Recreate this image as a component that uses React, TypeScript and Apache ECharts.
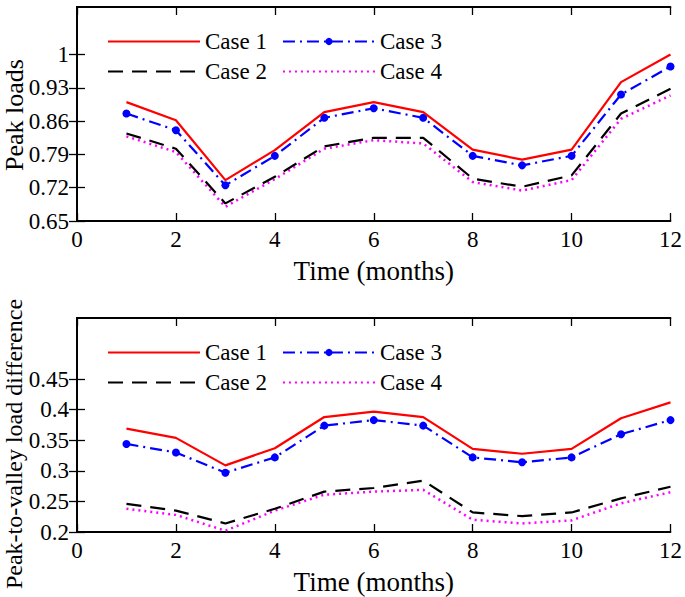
import React, { useEffect, useRef } from "react";
import * as echarts from "echarts";

const months = [1, 2, 3, 4, 5, 6, 7, 8, 9, 10, 11, 12];

// Peak loads
const peakCase1 = [0.9, 0.862, 0.736, 0.799, 0.879, 0.9, 0.879, 0.8, 0.779, 0.8, 0.942, 1.0];
const peakCase2 = [0.834, 0.802, 0.687, 0.743, 0.807, 0.825, 0.825, 0.739, 0.722, 0.746, 0.876, 0.928];
const peakCase3 = [0.876, 0.841, 0.725, 0.787, 0.867, 0.887, 0.867, 0.787, 0.767, 0.787, 0.916, 0.975];
const peakCase4 = [0.828, 0.795, 0.68, 0.738, 0.802, 0.82, 0.813, 0.732, 0.714, 0.736, 0.865, 0.914];

// Peak-to-valley load difference
const pvCase1 = [0.369, 0.354, 0.309, 0.337, 0.388, 0.397, 0.388, 0.336, 0.328, 0.336, 0.386, 0.412];
const pvCase2 = [0.246, 0.235, 0.214, 0.238, 0.266, 0.272, 0.284, 0.232, 0.226, 0.232, 0.255, 0.274];
const pvCase3 = [0.344, 0.33, 0.297, 0.322, 0.374, 0.383, 0.374, 0.322, 0.314, 0.322, 0.36, 0.383];
const pvCase4 = [0.238, 0.228, 0.202, 0.235, 0.261, 0.266, 0.269, 0.22, 0.214, 0.219, 0.247, 0.265];

const xTicks = [0, 2, 4, 6, 8, 10, 12];
const peakTicks = [0.65, 0.72, 0.79, 0.86, 0.93, 1];
const pvTicks = [0.2, 0.25, 0.3, 0.35, 0.4, 0.45];

const FONT = "'Liberation Serif', 'Times New Roman', serif";

export default function App() {
  const ref = useRef<HTMLDivElement>(null);
  useEffect(() => {
    if (!ref.current) return;
    const chart = echarts.init(ref.current, undefined, { renderer: "svg" });
    const pair = (arr: number[]) => months.map((m, i) => [m, arr[i]]);
    const fmt = (v: number) => String(Math.round(v * 100) / 100);

    const styles = [
      { name: "Case 1", color: "#ff0000", type: "solid" as any, width: 2.2, marker: false },
      { name: "Case 2", color: "#000000", type: [15, 9] as any, width: 2.2, marker: false },
      { name: "Case 3", color: "#0000ff", type: [12, 5, 2, 5] as any, width: 2.2, marker: true },
      { name: "Case 4", color: "#ff00ff", type: [2, 4] as any, width: 2.5, marker: false },
    ];
    const peakData = [peakCase1, peakCase2, peakCase3, peakCase4];
    const pvData = [pvCase1, pvCase2, pvCase3, pvCase4];

    const series: any[] = [];
    [peakData, pvData].forEach((set, g) => {
      set.forEach((arr, k) => {
        const s = styles[k];
        series.push({
          type: "line",
          name: s.name,
          xAxisIndex: g * 2,
          yAxisIndex: g * 2,
          data: pair(arr),
          symbol: "circle",
          symbolSize: 8,
          showSymbol: s.marker,
          itemStyle: { color: s.color },
          lineStyle: { color: s.color, type: s.type, width: s.width },
          z: 10 - k,
        });
      });
    });

    const grids = [
      { left: 77, right: 13, top: 7, height: 214 },
      { left: 77, right: 13, top: 318, height: 214 },
    ];

    const xAxes: any[] = [];
    const yAxes: any[] = [];
    const yRanges = [
      { min: 0.65, max: 1.1, ticks: peakTicks },
      { min: 0.2, max: 0.55, ticks: pvTicks },
    ];
    const axisLine = { show: true, lineStyle: { color: "#000", width: 1.8 } };
    const tickStyle = { lineStyle: { color: "#000", width: 1.3 } };
    [0, 1].forEach((g) => {
      xAxes.push({
        gridIndex: g,
        type: "value",
        min: 0,
        max: 12,
        interval: 2,
        position: "bottom",
        axisLine,
        axisTick: { show: true, inside: true, length: 8, customValues: xTicks, ...tickStyle },
        axisLabel: { customValues: xTicks, fontFamily: FONT, fontSize: 23, color: "#000", margin: 7 },
        splitLine: { show: false },
        name: "Time (months)",
        nameLocation: "middle",
        nameGap: 36,
        nameTextStyle: { fontFamily: FONT, fontSize: 27, color: "#000" },
      });
      xAxes.push({
        gridIndex: g,
        type: "value",
        min: 0,
        max: 12,
        interval: 2,
        position: "top",
        axisLine,
        axisTick: { show: true, inside: true, length: 8, customValues: xTicks, ...tickStyle },
        axisLabel: { show: false },
        splitLine: { show: false },
      });
      const r = yRanges[g];
      yAxes.push({
        gridIndex: g,
        type: "value",
        min: r.min,
        max: r.max,
        position: "left",
        axisLine,
        axisTick: { show: true, inside: true, length: 8, customValues: r.ticks, ...tickStyle },
        axisLabel: {
          customValues: r.ticks,
          formatter: fmt,
          fontFamily: FONT,
          fontSize: 23,
          color: "#000",
          margin: 8,
        },
        splitLine: { show: false },
      });
      yAxes.push({
        gridIndex: g,
        type: "value",
        min: r.min,
        max: r.max,
        position: "right",
        axisLine,
        axisTick: { show: true, inside: true, length: 8, customValues: r.ticks, ...tickStyle },
        axisLabel: { show: false },
        splitLine: { show: false },
      });
    });

    const item = (name: string) => {
      const s = styles.find((t) => t.name === name)!;
      return s.marker ? { name } : { name, itemStyle: { opacity: 0 } };
    };
    const legendBase = {
      orient: "horizontal",
      padding: 0,
      itemWidth: 92,
      itemHeight: 9,
      itemGap: 15,
      selectedMode: false,
      textStyle: { fontFamily: FONT, fontSize: 23, color: "#000" },
      left: 107,
    };
    const rowTops = [30, 60, 341, 371];
    const legends = [
      { ...legendBase, top: rowTops[0], data: [item("Case 1"), item("Case 3")] },
      { ...legendBase, top: rowTops[1], data: [item("Case 2"), item("Case 4")] },
      { ...legendBase, top: rowTops[2], data: [item("Case 1"), item("Case 3")] },
      { ...legendBase, top: rowTops[3], data: [item("Case 2"), item("Case 4")] },
    ];

    chart.setOption({
      animation: false,
      backgroundColor: "#fff",
      grid: grids,
      xAxis: xAxes,
      yAxis: yAxes,
      legend: legends,
      series,
      graphic: [
        {
          type: "text",
          x: 14,
          y: 115,
          rotation: Math.PI / 2,
          style: {
            text: "Peak loads",
            font: `26px ${FONT}`,
            fill: "#000",
            textAlign: "center",
            textVerticalAlign: "middle",
          },
        },
        {
          type: "text",
          x: 14,
          y: 444,
          rotation: Math.PI / 2,
          style: {
            text: "Peak-to-valley load difference",
            font: `24px ${FONT}`,
            fill: "#000",
            textAlign: "center",
            textVerticalAlign: "middle",
          },
        },
      ],
    });
    return () => chart.dispose();
  }, []);
  return (
    <div
      ref={ref}
      style={{ position: "fixed", left: 0, top: 0, width: 685, height: 597, background: "#fff" }}
    />
  );
}
